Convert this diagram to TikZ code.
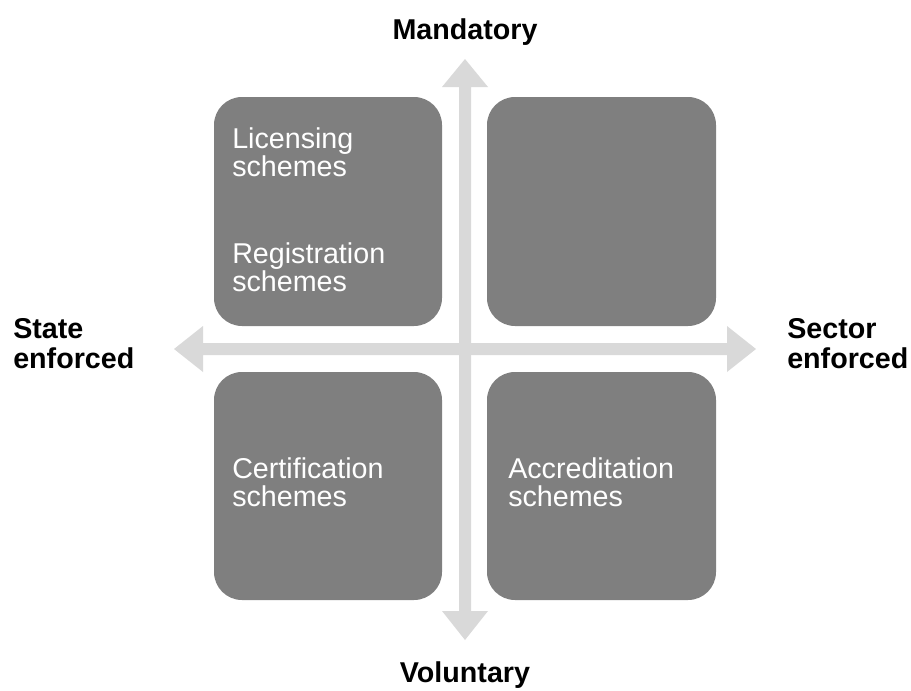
\documentclass[tikz,border=0pt]{standalone}
\usepackage{fontspec}
\setmainfont{Liberation Sans}
\definecolor{boxgray}{HTML}{7F7F7F}
\definecolor{arrowgray}{HTML}{D9D9D9}
\newcommand{\twolines}[3]{\vtop{\baselineskip=#3\hbox{#1}\hbox{#2}}}
\begin{document}
\begin{tikzpicture}[x=0.75pt,y=-0.75pt,
  quad/.style={fill=boxgray,rounded corners=21pt},
  arrowshape/.style={fill=arrowgray,draw=none},
  boxtext/.style={anchor=base west,inner sep=0pt,text=white,font=\fontsize{21.5}{21.3}\selectfont},
  axislabel/.style={inner sep=0pt,text=black,font=\fontsize{21.5}{23}\selectfont\bfseries}]
\useasboundingbox (0,0) rectangle (911,690);
% quadrants
\fill[quad] (214,97) rectangle (442,326);
\fill[quad] (487,97) rectangle (716,326);
\fill[quad] (214,372) rectangle (442,600);
\fill[quad] (487,372) rectangle (716,600);
% vertical double arrow
\fill[arrowshape] (465,59) -- (488,87) -- (471,87) -- (471,611) -- (488,611) -- (465,640)
  -- (442,611) -- (459,611) -- (459,87) -- (442,87) -- cycle;
% horizontal double arrow
\fill[arrowshape] (174,349) -- (203,326) -- (203,343) -- (727,343) -- (727,326) -- (756,349)
  -- (727,372) -- (727,355) -- (203,355) -- (203,372) -- cycle;
% box texts
\node[boxtext] (lic) at (232,148) {\twolines{Licensing}{schemes}{21.3pt}};
\node[boxtext] (reg) at (232,263) {\twolines{Registration}{schemes}{21.3pt}};
\node[boxtext] (cert) at (232,478) {\twolines{Certification}{schemes}{21.3pt}};
\node[boxtext] (accr) at (508,478) {\twolines{Accreditation}{schemes}{21.3pt}};
% axis labels
\node[axislabel,anchor=base] (mand) at (465,39) {Mandatory};
\node[axislabel,anchor=base] (vol) at (465,682) {Voluntary};
\node[axislabel,anchor=base west] (state) at (13,338) {\twolines{State}{enforced}{23pt}};
\node[axislabel,anchor=base west] (sector) at (787,338) {\twolines{Sector}{enforced}{23pt}};
\end{tikzpicture}
\end{document}
